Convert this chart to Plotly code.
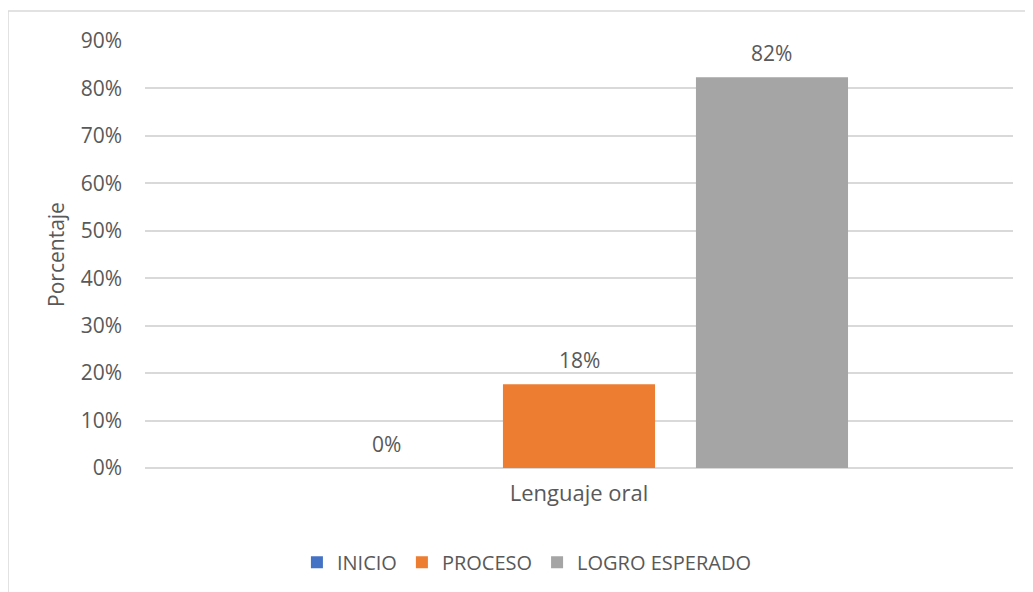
import plotly.graph_objects as go

categories = ["Lenguaje oral"]
series_names = ["INICIO", "PROCESO", "LOGRO ESPERADO"]
series_values = [0.0, 0.1765, 0.8235]
series_labels = ["0%", "18%", "82%"]
colors = ["#4472C4", "#ED7D31", "#A5A5A5"]
y_ticks = [0, 0.1, 0.2, 0.3, 0.4, 0.5, 0.6, 0.7, 0.8, 0.9]
y_tick_labels = ["0%", "10%", "20%", "30%", "40%", "50%", "60%", "70%", "80%", "90%"]

FONT = "Open Sans, Liberation Sans, sans-serif"
TXT = "#595959"

W, H = 1025, 584
ml, mr, mt, mb = 137, 20, 33, 124
pw, ph = W - ml - mr, H - mt - mb
bargap, bargroupgap = 0.333, 0.212
slot_px = pw * (1 - bargap) / len(series_names)

fig = go.Figure()
for i, (name, val, lab, col) in enumerate(zip(series_names, series_values, series_labels, colors)):
    fig.add_trace(go.Bar(
        name=name, x=categories, y=[val], marker=dict(color=col, line=dict(width=0)),
    ))
    fig.add_annotation(
        x=categories[0], y=val, xref="x", yref="y", text=lab, showarrow=False,
        xshift=(i - (len(series_names) - 1) / 2) * slot_px, yshift=24, yanchor="middle",
        font=dict(family=FONT, size=21, color=TXT),
    )

fig.update_layout(
    width=W, height=H,
    margin=dict(l=ml, r=mr, t=mt, b=mb, autoexpand=False),
    paper_bgcolor="white", plot_bgcolor="white",
    barmode="group", bargap=bargap, bargroupgap=bargroupgap,
    font=dict(family=FONT, color=TXT, size=20),
    showlegend=True,
    legend=dict(orientation="h", x=0.44, xanchor="center", y=-0.221, yanchor="middle",
                font=dict(family=FONT, size=20, color=TXT), itemwidth=30, traceorder="normal"),
)
fig.update_yaxes(
    range=[0, 0.9], tickvals=y_ticks, ticktext=y_tick_labels,
    showgrid=True, gridcolor="#D9D9D9", gridwidth=1.5,
    zeroline=True, zerolinecolor="#D9D9D9", zerolinewidth=1.5,
    showline=False, ticks="", ticklabelstandoff=22,
    tickfont=dict(family=FONT, size=21, color=TXT),
    title=dict(text="Porcentaje", font=dict(family=FONT, size=21, color=TXT), standoff=10),
)
fig.update_xaxes(
    showgrid=False, showline=False, ticks="", ticklabelstandoff=10,
    tickfont=dict(family=FONT, size=22, color=TXT),
)
# chart border
fig.add_shape(type="rect", xref="paper", yref="paper",
              x0=(0 - ml) / pw, x1=(1024 - ml) / pw,
              y0=-(H + 10 - mt - ph) / ph, y1=1 + (mt - 3) / ph,
              line=dict(color="#D9D9D9", width=1.5), fillcolor="rgba(0,0,0,0)", layer="below")

fig.write_html("out.html")
